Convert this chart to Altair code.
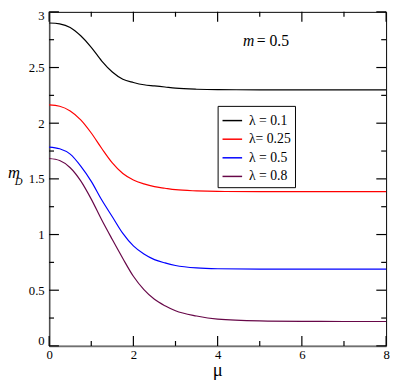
import altair as alt
import pandas as pd

# ---- data ----
mu = [0, 0.25, 0.5, 0.75, 1.0, 1.25, 1.5, 1.75, 2.0, 2.25, 2.5, 2.75, 3.0, 3.5, 4.0, 5.0, 6.0, 7.0, 8.0]
md_l01 = [2.900, 2.892, 2.860, 2.785, 2.682, 2.558, 2.460, 2.395, 2.366, 2.345, 2.335, 2.325, 2.315, 2.305, 2.301, 2.300, 2.300, 2.300, 2.300]
md_l025 = [2.164, 2.152, 2.110, 2.030, 1.912, 1.773, 1.644, 1.548, 1.490, 1.455, 1.430, 1.416, 1.403, 1.392, 1.387, 1.385, 1.385, 1.385, 1.385]
md_l05 = [1.785, 1.770, 1.722, 1.615, 1.478, 1.310, 1.160, 1.010, 0.898, 0.825, 0.775, 0.745, 0.722, 0.700, 0.693, 0.690, 0.690, 0.690, 0.690]
md_l08 = [1.683, 1.665, 1.600, 1.482, 1.318, 1.130, 0.955, 0.785, 0.625, 0.505, 0.418, 0.360, 0.315, 0.268, 0.240, 0.224, 0.220, 0.219, 0.219]

series_labels = ["λ = 0.1", "λ= 0.25", "λ = 0.5", "λ = 0.8"]
series_colors = ["#000000", "#ff0000", "#0000ff", "#670748"]

x_major = [0, 2, 4, 6, 8]
x_minor = [1, 3, 5, 7]
y_major = [0, 0.5, 1, 1.5, 2, 2.5, 3]
y_minor = [0.25, 0.75, 1.25, 1.75, 2.25, 2.75]

W, H = 344, 341
FONT = "Liberation Serif"

rows = []
for lab, vals in zip(series_labels, [md_l01, md_l025, md_l05, md_l08]):
    for m, v in zip(mu, vals):
        rows.append({"mu": m, "mD": v, "series": lab})
df = pd.DataFrame(rows)

xs = alt.Scale(domain=[0, 8], nice=False, zero=False)
ys = alt.Scale(domain=[0, 3], nice=False, zero=False)

x_axis = alt.Axis(values=x_major, format="d", title=None, ticks=False,
                  labelFont=FONT, labelFontSize=13, labelColor="black",
                  labelPadding=3, domainColor="#707070", domainWidth=2,
                  grid=False, labelFlush=False, labelOverlap=False)
y_axis = alt.Axis(values=y_major, format="~g", title=None, ticks=False,
                  labelFont=FONT, labelFontSize=13, labelColor="black",
                  labelPadding=5, domainColor="#505050", domainWidth=1.5,
                  grid=False, labelFlush=True, labelFlushOffset=2, labelOverlap=False)

lines = alt.Chart(df).mark_line(strokeWidth=1.2, interpolate="monotone").encode(
    x=alt.X("mu:Q", scale=xs, axis=x_axis),
    y=alt.Y("mD:Q", scale=ys, axis=y_axis),
    color=alt.Color("series:N", scale=alt.Scale(domain=series_labels, range=series_colors),
                    legend=alt.Legend(title=None, orient="none", legendX=172, legendY=96,
                                      strokeColor="black", fillColor="white", padding=4,
                                      symbolType="stroke", symbolSize=400, symbolStrokeWidth=1.5,
                                      labelFont=FONT, labelFontSize=14, labelColor="black",
                                      labelOffset=6, rowPadding=1, cornerRadius=0)),
)


def xticks(vals, length, top):
    d = pd.DataFrame({"v": vals})
    if top:
        yy, yy2 = 0, length
    else:
        yy, yy2 = H, H - length
    return alt.Chart(d).mark_rule(color="black", strokeWidth=1.2).encode(
        x=alt.X("v:Q", scale=xs, axis=x_axis), y=alt.value(yy), y2=alt.value(yy2))


def yticks(vals, length, right):
    d = pd.DataFrame({"v": vals})
    if right:
        xx, xx2 = W, W - length
    else:
        xx, xx2 = 0, length
    return alt.Chart(d).mark_rule(color="black", strokeWidth=1.2).encode(
        y=alt.Y("v:Q", scale=ys, axis=y_axis), x=alt.value(xx), x2=alt.value(xx2))


ticks = [
    xticks(x_major, 10, False), xticks(x_minor, 5, False),
    xticks(x_major, 10, True), xticks(x_minor, 5, True),
    yticks(y_major, 10, False), yticks(y_minor, 5, False),
    yticks(y_major, 10, True), yticks(y_minor, 5, True),
]


def label(txt, x, y, size, style="normal", align="left"):
    return alt.Chart(pd.DataFrame({"t": [txt]})).mark_text(
        font=FONT, fontSize=size, fontStyle=style, align=align, baseline="alphabetic", color="black"
    ).encode(text="t:N", x=alt.value(x), y=alt.value(y))


texts = [
    label("μ", 172, 372, 19, align="center"),
    label("m", -42, 170, 17, style="italic"),
    label("D", -35, 177, 11, style="italic"),
    label("m", 198, 35, 16, style="italic"),
    label("= 0.5", 212, 35, 16),
]

chart = alt.layer(lines, *ticks, *texts).properties(
    width=W, height=H,
    padding={"left": 42, "top": 0, "right": 5, "bottom": 36},
    autosize=alt.AutoSizeParams(type="none"),
).configure_view(stroke="black", strokeWidth=1)

chart.save("out.html", embed_options={"renderer": "svg", "actions": False})
